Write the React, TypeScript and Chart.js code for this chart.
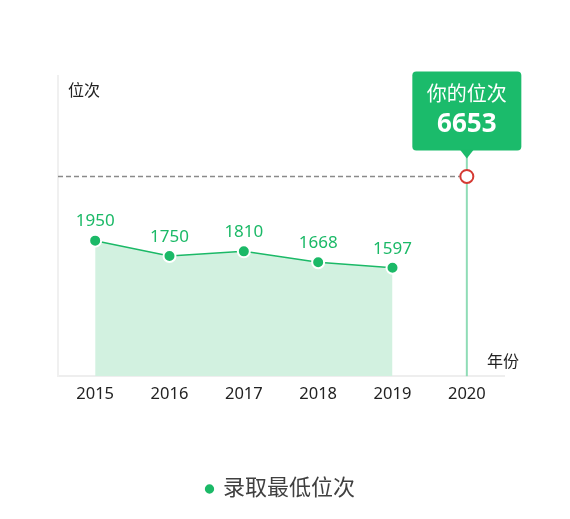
import { useEffect, useRef } from "react";
import { Chart, registerables } from "chart.js";

Chart.register(...registerables);

const years = ["2015", "2016", "2017", "2018", "2019", "2020"];
const minRank = [1950, 1750, 1810, 1668, 1597, null];
const myRank = [null, null, null, null, null, 6653];
const seriesName = "录取最低位次";
const yTitle = "位次";
const xTitle = "年份";
const tipTitle = "你的位次";

const GREEN = "#1bb967";
const FONT = '"Noto Sans", "Noto Sans CJK SC", sans-serif';

const decorPlugin = {
  id: "decor",
  beforeDatasetsDraw(chart: any) {
    const { ctx, chartArea } = chart;
    const idx = myRank.findIndex((v) => v != null);
    const pt = chart.getDatasetMeta(1).data[idx];
    if (!pt) return;
    ctx.save();
    // vertical guide
    ctx.strokeStyle = "#8fdcb6";
    ctx.lineWidth = 2;
    ctx.beginPath();
    ctx.moveTo(pt.x, pt.y - 20);
    ctx.lineTo(pt.x, chartArea.bottom);
    ctx.stroke();
    // dashed horizontal
    ctx.strokeStyle = "#8a8a8a";
    ctx.lineWidth = 1.5;
    ctx.setLineDash([5, 3]);
    ctx.beginPath();
    ctx.moveTo(chartArea.left, pt.y);
    ctx.lineTo(pt.x - 7, pt.y);
    ctx.stroke();
    ctx.restore();
  },
  afterDatasetsDraw(chart: any) {
    const { ctx, chartArea } = chart;
    ctx.save();
    // value labels
    const meta = chart.getDatasetMeta(0);
    ctx.fillStyle = GREEN;
    ctx.font = `17px ${FONT}`;
    ctx.textAlign = "center";
    ctx.textBaseline = "middle";
    meta.data.forEach((p: any, i: number) => {
      if (minRank[i] == null) return;
      ctx.fillText(String(minRank[i]), p.x, p.y - 19);
    });

    // axis titles
    ctx.fillStyle = "#222";
    ctx.font = `16px ${FONT}`;
    ctx.textAlign = "left";
    ctx.fillText(yTitle, chartArea.left + 10, chartArea.top + 15);
    ctx.fillText(xTitle, chartArea.right - 17, chartArea.bottom - 14);

    // tooltip box
    const idx = myRank.findIndex((v) => v != null);
    const pt = chart.getDatasetMeta(1).data[idx];
    if (pt) {
      const w = 109;
      const h = 79;
      const bottom = pt.y - 26;
      const left = pt.x - w / 2;
      const top = bottom - h;
      ctx.fillStyle = "#1bbb6b";
      ctx.beginPath();
      ctx.roundRect(left, top, w, h, 4);
      ctx.fill();
      ctx.beginPath();
      ctx.moveTo(pt.x - 7, bottom - 1);
      ctx.lineTo(pt.x + 7, bottom - 1);
      ctx.lineTo(pt.x, bottom + 8);
      ctx.closePath();
      ctx.fill();
      ctx.fillStyle = "#fff";
      ctx.textAlign = "center";
      ctx.font = `20px ${FONT}`;
      ctx.fillText(tipTitle, pt.x, top + 24);
      ctx.font = `bold 26px ${FONT}`;
      ctx.fillText(String(myRank[idx]), pt.x, top + 53);
    }
    ctx.restore();
  },
};

export default function App() {
  const canvasRef = useRef<HTMLCanvasElement>(null);

  useEffect(() => {
    if (!canvasRef.current) return;
    const chart = new Chart(canvasRef.current, {
      type: "line",
      data: {
        labels: years,
        datasets: [
          {
            label: seriesName,
            data: minRank,
            borderColor: GREEN,
            borderWidth: 1.5,
            backgroundColor: "#d2f1e0",
            fill: "start",
            tension: 0,
            pointRadius: 6,
            pointBackgroundColor: GREEN,
            pointBorderColor: "#ffffff",
            pointBorderWidth: 2,
          },
          {
            label: tipTitle,
            data: myRank,
            yAxisID: "y2",
            showLine: false,
            pointRadius: 6.5,
            pointBackgroundColor: "#ffffff",
            pointBorderColor: "#d53a33",
            pointBorderWidth: 2,
          },
        ],
      },
      options: {
        animation: false,
        responsive: true,
        maintainAspectRatio: false,
        events: [],
        layout: { padding: { left: 50, right: 66, top: 76, bottom: 9 } },
        scales: {
          x: {
            offset: true,
            grid: { display: false },
            border: { color: "#eeeeee", width: 2 },
            ticks: { color: "#222", font: { size: 16.5, family: FONT }, padding: 0 },
          },
          y: {
            min: 180,
            max: 4100,
            grid: { display: false },
            ticks: { display: false },
            border: { color: "#f0f0f0", width: 2 },
          },
          y2: { display: false, min: 0, max: 10000 },
        },
        plugins: {
          tooltip: { enabled: false },
          legend: {
            position: "bottom",
            fullSize: false,
            labels: {
              usePointStyle: true,
              boxWidth: 5,
              boxHeight: 8,
              padding: 74,
              color: "#404040",
              font: { size: 22, family: FONT },
              filter: (item: any) => item.datasetIndex === 0,
            },
          },
        },
      },
      plugins: [decorPlugin],
    });
    return () => chart.destroy();
  }, []);

  return (
    <div style={{ position: "fixed", left: 0, top: 0, width: 570, height: 519, background: "#fff" }}>
      <canvas ref={canvasRef}></canvas>
    </div>
  );
}
